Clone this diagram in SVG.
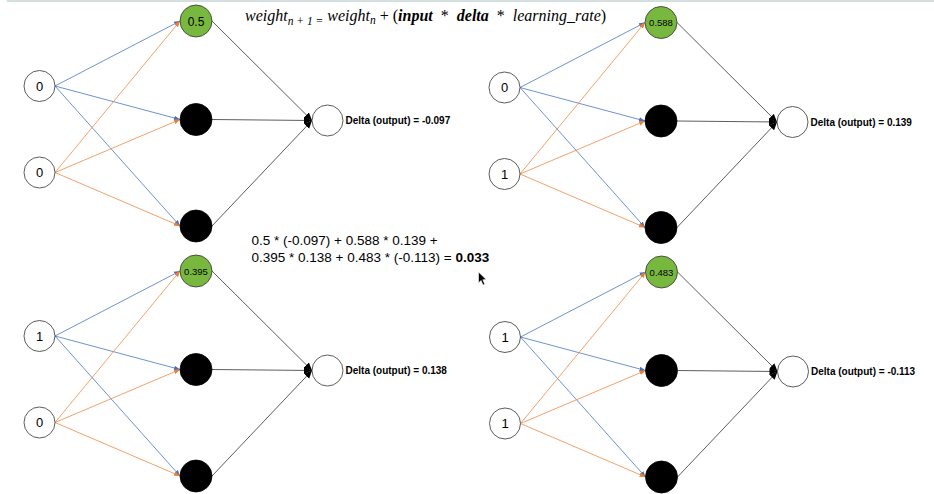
<svg xmlns="http://www.w3.org/2000/svg" width="934" height="494" viewBox="0 0 934 494">
<style>
  .in { fill: #fff; stroke: #333; stroke-width: 0.8; }
  .hid { fill: #000; stroke: #000; stroke-width: 0.8; }
  .grn { fill: #78b83f; stroke: #333; stroke-width: 0.8; }
  .out { fill: #fff; stroke: #333; stroke-width: 0.8; }
  .lbl { font-family: "Liberation Sans", Arial, sans-serif; fill: #000; text-anchor: middle; }
  .inl { font-size: 13px; }
  .hl { font-size: 9.5px; }
  .dl { font-family: "Liberation Sans", Arial, sans-serif; font-weight: bold; font-size: 10px; fill: #000; }
  .b { stroke: #4a76c6; stroke-width: 0.8; fill: none; marker-end: url(#mb); }
  .o { stroke: #ef8a44; stroke-width: 0.8; fill: none; marker-end: url(#mo); }
  .k { stroke: #333; stroke-width: 0.8; fill: none; marker-end: url(#mk); }
  .f { font-family: "Liberation Serif", "Times New Roman", serif; font-style: italic; font-size: 16px; fill: #000; }
  .m { font-family: "Liberation Sans", Arial, sans-serif; font-size: 13.5px; fill: #000; }
</style>
<defs>
  <marker id="mb" viewBox="0 0 10 10" refX="10" refY="5" markerWidth="6" markerHeight="6" markerUnits="userSpaceOnUse" orient="auto"><path d="M0,1 L10,5 L0,9 z" fill="#4472c4"/></marker>
  <marker id="mo" viewBox="0 0 10 10" refX="10" refY="5" markerWidth="6" markerHeight="6" markerUnits="userSpaceOnUse" orient="auto"><path d="M0,1 L10,5 L0,9 z" fill="#ed7d31"/></marker>
  <marker id="mk" viewBox="0 0 10 10" refX="10" refY="5" markerWidth="8" markerHeight="8" markerUnits="userSpaceOnUse" orient="auto"><path d="M0,0.5 L10,5 L0,9.5 z" fill="#000"/></marker>
</defs>

<line x1="7" y1="1" x2="934" y2="1" stroke="#c6d6d6" stroke-width="1.6"/>

<g id="connectors">
  <g id="conn-tl">
    <line class="b" x1="55" y1="86" x2="180" y2="21"/>
    <line class="b" x1="55" y1="86" x2="180" y2="119.5"/>
    <line class="b" x1="55" y1="86" x2="180" y2="226"/>
    <line class="o" x1="55" y1="172.5" x2="180" y2="21"/>
    <line class="o" x1="55" y1="172.5" x2="180" y2="119.5"/>
    <line class="o" x1="55" y1="172.5" x2="180" y2="226"/>
    <line class="k" x1="212" y1="21" x2="312" y2="120.5"/>
    <line class="k" x1="212" y1="119.5" x2="312" y2="120.5"/>
    <line class="k" x1="212" y1="226" x2="312" y2="120.5"/>
  </g>
  <g id="conn-tr" transform="translate(465,1.5)">
    <line class="b" x1="55" y1="86" x2="180" y2="21"/>
    <line class="b" x1="55" y1="86" x2="180" y2="119.5"/>
    <line class="b" x1="55" y1="86" x2="180" y2="226"/>
    <line class="o" x1="55" y1="172.5" x2="180" y2="21"/>
    <line class="o" x1="55" y1="172.5" x2="180" y2="119.5"/>
    <line class="o" x1="55" y1="172.5" x2="180" y2="226"/>
    <line class="k" x1="212" y1="21" x2="312" y2="120.5"/>
    <line class="k" x1="212" y1="119.5" x2="312" y2="120.5"/>
    <line class="k" x1="212" y1="226" x2="312" y2="120.5"/>
  </g>
  <g id="conn-bl" transform="translate(0,250)">
    <line class="b" x1="55" y1="86" x2="180" y2="21"/>
    <line class="b" x1="55" y1="86" x2="180" y2="119.5"/>
    <line class="b" x1="55" y1="86" x2="180" y2="226"/>
    <line class="o" x1="55" y1="172.5" x2="180" y2="21"/>
    <line class="o" x1="55" y1="172.5" x2="180" y2="119.5"/>
    <line class="o" x1="55" y1="172.5" x2="180" y2="226"/>
    <line class="k" x1="212" y1="21" x2="312" y2="120.5"/>
    <line class="k" x1="212" y1="119.5" x2="312" y2="120.5"/>
    <line class="k" x1="212" y1="226" x2="312" y2="120.5"/>
  </g>
  <g id="conn-br" transform="translate(465.5,251)">
    <line class="b" x1="55" y1="86" x2="180" y2="21"/>
    <line class="b" x1="55" y1="86" x2="180" y2="119.5"/>
    <line class="b" x1="55" y1="86" x2="180" y2="226"/>
    <line class="o" x1="55" y1="172.5" x2="180" y2="21"/>
    <line class="o" x1="55" y1="172.5" x2="180" y2="119.5"/>
    <line class="o" x1="55" y1="172.5" x2="180" y2="226"/>
    <line class="k" x1="212" y1="21" x2="312" y2="120.5"/>
    <line class="k" x1="212" y1="119.5" x2="312" y2="120.5"/>
    <line class="k" x1="212" y1="226" x2="312" y2="120.5"/>
  </g>
</g>

<g id="net-tl">
  <g id="tl-in1"><circle class="in" cx="39.5" cy="86" r="15.5"/><text class="lbl inl" x="39.5" y="90.5">0</text></g>
  <g id="tl-in2"><circle class="in" cx="39.5" cy="172.5" r="15.5"/><text class="lbl inl" x="39.5" y="177">0</text></g>
  <g id="tl-h1"><circle class="grn" cx="196" cy="21" r="16"/><text class="lbl" font-size="12" x="196" y="25.5">0.5</text></g>
  <g id="tl-h2"><circle class="hid" cx="196" cy="119.5" r="16"/></g>
  <g id="tl-h3"><circle class="hid" cx="196" cy="226" r="16"/></g>
  <g id="tl-out"><circle class="out" cx="327.5" cy="120.5" r="15.5"/><text class="dl" x="345.5" y="124">Delta (output) = -0.097</text></g>
</g>

<g id="net-tr" transform="translate(465,1.5)">
  <g id="tr-in1"><circle class="in" cx="39.5" cy="86" r="15.5"/><text class="lbl inl" x="39.5" y="90.5">0</text></g>
  <g id="tr-in2"><circle class="in" cx="39.5" cy="172.5" r="15.5"/><text class="lbl inl" x="39.5" y="177">1</text></g>
  <g id="tr-h1"><circle class="grn" cx="196" cy="21" r="16"/><text class="lbl hl" x="196" y="24.5">0.588</text></g>
  <g id="tr-h2"><circle class="hid" cx="196" cy="119.5" r="16"/></g>
  <g id="tr-h3"><circle class="hid" cx="196" cy="226" r="16"/></g>
  <g id="tr-out"><circle class="out" cx="327.5" cy="120.5" r="15.5"/><text class="dl" x="345.5" y="124">Delta (output) = 0.139</text></g>
</g>

<g id="net-bl" transform="translate(0,250)">
  <g id="bl-in1"><circle class="in" cx="39.5" cy="86" r="15.5"/><text class="lbl inl" x="39.5" y="90.5">1</text></g>
  <g id="bl-in2"><circle class="in" cx="39.5" cy="172.5" r="15.5"/><text class="lbl inl" x="39.5" y="177">0</text></g>
  <g id="bl-h1"><circle class="grn" cx="196" cy="21" r="16"/><text class="lbl hl" x="196" y="24.5">0.395</text></g>
  <g id="bl-h2"><circle class="hid" cx="196" cy="119.5" r="16"/></g>
  <g id="bl-h3"><circle class="hid" cx="196" cy="226" r="16"/></g>
  <g id="bl-out"><circle class="out" cx="327.5" cy="120.5" r="15.5"/><text class="dl" x="345.5" y="124">Delta (output) = 0.138</text></g>
</g>

<g id="net-br" transform="translate(465.5,251)">
  <g id="br-in1"><circle class="in" cx="39.5" cy="86" r="15.5"/><text class="lbl inl" x="39.5" y="90.5">1</text></g>
  <g id="br-in2"><circle class="in" cx="39.5" cy="172.5" r="15.5"/><text class="lbl inl" x="39.5" y="177">1</text></g>
  <g id="br-h1"><circle class="grn" cx="196" cy="21" r="16"/><text class="lbl hl" x="196" y="24.5">0.483</text></g>
  <g id="br-h2"><circle class="hid" cx="196" cy="119.5" r="16"/></g>
  <g id="br-h3"><circle class="hid" cx="196" cy="226" r="16"/></g>
  <g id="br-out"><circle class="out" cx="327.5" cy="120.5" r="15.5"/><text class="dl" x="345.5" y="124">Delta (output) = -0.113</text></g>
</g>

<g id="formula">
  <text class="f" x="245" y="21">weight<tspan font-size="11.5" dy="4">n + 1 =</tspan><tspan dy="-4"> weight</tspan><tspan font-size="11.5" dy="3">n</tspan><tspan dy="-3" font-style="normal"> + (</tspan><tspan font-weight="bold">input</tspan><tspan font-style="normal">&#160;&#160;*&#160;&#160;</tspan><tspan font-weight="bold">delta</tspan><tspan font-style="normal">&#160;&#160;*&#160;&#160;</tspan>learning_rate<tspan font-style="normal">)</tspan></text>
</g>

<g id="sum">
  <text class="m" x="251.5" y="245">0.5 * (-0.097) + 0.588 * 0.139 +</text>
  <text class="m" x="251.5" y="262">0.395 * 0.138 + 0.483 * (-0.113) = <tspan font-weight="bold">0.033</tspan></text>
</g>

<path id="cursor" d="M478.5,272 L478.5,283 L481,280.5 L483,285 L484.8,284.2 L482.8,279.8 L486.2,279.6 Z" fill="#000" stroke="#fff" stroke-width="0.6"/>
</svg>
